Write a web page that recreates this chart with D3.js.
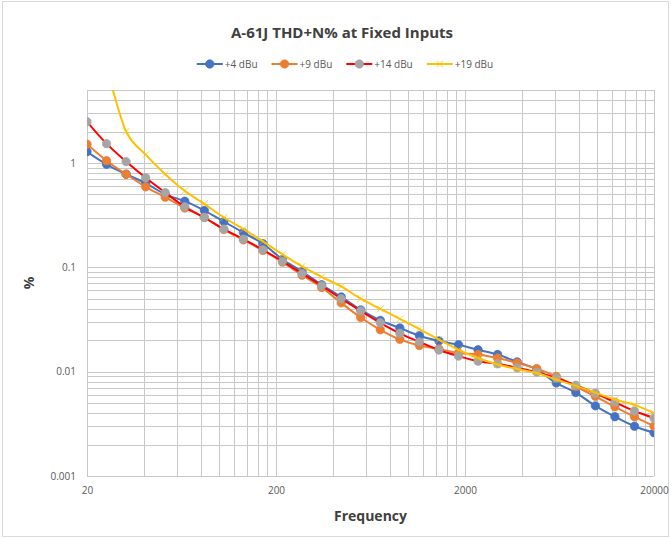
<!DOCTYPE html>
<html>
<head>
<meta charset="utf-8">
<script src="https://cdn.jsdelivr.net/npm/d3@7"></script>
<style>
  body { margin: 0; background: #fff; }
  svg { display: block; font-family: "Open Sans", "Liberation Sans", sans-serif; }
</style>
</head>
<body>
<div id="chart"></div>
<script>
// frequency points of the sweep (Hz), 30 points log spaced
var freqs = [20, 25.38, 32.21, 40.87, 51.86, 65.81, 83.51, 105.97, 134.47, 170.64,
  216.5, 274.8, 348.7, 442.5, 561.5, 712.5, 904.1, 1147.3, 1455.9, 1847.5,
  2344.5, 2975, 3775, 4790.6, 6079, 7714, 9789, 12422, 15764, 20000]

// THD+N % for each input level
var plus4 = [1.28, 0.97, 0.78, 0.64, 0.50, 0.43, 0.35, 0.274, 0.215, 0.168,
  0.119, 0.091, 0.068, 0.052, 0.039, 0.031, 0.0262, 0.0221, 0.0197, 0.0181,
  0.0162, 0.0146, 0.0124, 0.0105, 0.0078, 0.0063, 0.0047, 0.0037, 0.0030, 0.0026]
var plus9 = [1.51, 1.05, 0.78, 0.59, 0.47, 0.37, 0.30, 0.23, 0.183, 0.145,
  0.112, 0.084, 0.064, 0.0456, 0.033, 0.0252, 0.0204, 0.0178, 0.0165, 0.0151,
  0.0146, 0.0135, 0.0121, 0.0107, 0.0090, 0.0072, 0.0058, 0.0046, 0.0037, 0.0030]
var plus14 = [2.48, 1.53, 1.03, 0.72, 0.52, 0.38, 0.30, 0.232, 0.186, 0.147,
  0.114, 0.087, 0.0665, 0.050, 0.0382, 0.0294, 0.0233, 0.0193, 0.0161, 0.0141,
  0.0126, 0.0119, 0.0109, 0.0099, 0.0087, 0.0074, 0.0062, 0.0051, 0.0042, 0.0036]
var plus19 = [15, 7.5, 2.0, 1.2, 0.78, 0.54, 0.405, 0.30, 0.232, 0.177,
  0.133, 0.102, 0.081, 0.0655, 0.050, 0.040, 0.032, 0.0256, 0.0203, 0.0162,
  0.0135, 0.0117, 0.0106, 0.0097, 0.0084, 0.0073, 0.0063, 0.0054, 0.0048, 0.0040]

var seriesNames = ["+4 dBu", "+9 dBu", "+14 dBu", "+19 dBu"]
var xTicks = [20, 200, 2000, 20000]
var yTicks = [0.001, 0.01, 0.1, 1]

var W = 671, H = 538
var plot = { left: 87, right: 654, top: 90, bottom: 476 }

var series = [
  { name: seriesNames[0], values: plus4, line: "#4472C4", marker: "#4472C4", shape: "circle" },
  { name: seriesNames[1], values: plus9, line: "#ED7D31", marker: "#ED7D31", shape: "circle" },
  { name: seriesNames[2], values: plus14, line: "#FF0000", marker: "#A5A5A5", shape: "circle" },
  { name: seriesNames[3], values: plus19, line: "#FFC000", marker: "#FFC000", shape: "x" }
]

var svg = d3.select("#chart").append("svg")
  .attr("width", W)
  .attr("height", H)

svg.append("rect")
  .attr("x", 2.5).attr("y", 1.5)
  .attr("width", W - 5).attr("height", H - 3)
  .attr("fill", "#fff")
  .attr("stroke", "#d9d9d9")

var x = d3.scaleLog().domain([20, 20000]).range([plot.left, plot.right])
var y = d3.scaleLog().domain([0.001, 5]).range([plot.bottom, plot.top])

// gridlines: every multiple 1..9 of the decade start
var xGrid = []
xTicks.forEach(function (t, i) {
  if (i == xTicks.length - 1) { xGrid.push(t); return }
  for (var k = 1; k < 10; k++) xGrid.push(t * k)
})
var yGrid = []
yTicks.forEach(function (t) {
  for (var k = 1; k < 10; k++) {
    var v = +(t * k).toPrecision(3)
    if (v <= 5) yGrid.push(v)
  }
})

var grid = svg.append("g")
grid.selectAll(".gx").data(xGrid).enter().append("line")
  .attr("x1", function (d) { return Math.round(x(d)) + 0.5 })
  .attr("x2", function (d) { return Math.round(x(d)) + 0.5 })
  .attr("y1", plot.top).attr("y2", plot.bottom)
  .attr("stroke", "#c8c8c8").attr("stroke-width", 1)
grid.selectAll(".gy").data(yGrid).enter().append("line")
  .attr("y1", function (d) { return Math.round(y(d)) + 0.5 })
  .attr("y2", function (d) { return Math.round(y(d)) + 0.5 })
  .attr("x1", plot.left).attr("x2", plot.right)
  .attr("stroke", "#c8c8c8").attr("stroke-width", 1)

// axes (labels only)
var xAxis = svg.append("g")
  .attr("transform", "translate(0," + plot.bottom + ")")
  .call(d3.axisBottom(x).tickValues(xTicks).tickFormat(d3.format("d")).tickSize(0).tickPadding(11))
var yAxis = svg.append("g")
  .attr("transform", "translate(" + plot.left + ",0)")
  .call(d3.axisLeft(y).tickValues(yTicks).tickFormat(function (d) { return String(d) }).tickSize(0).tickPadding(11))
;[xAxis, yAxis].forEach(function (a) {
  a.select(".domain").remove()
  a.selectAll("text")
    .attr("fill", "#595959")
    .style("font-size", "10px")
    .style("font-family", "\"Open Sans\", sans-serif")
})

// clip to the plot area
svg.append("clipPath").attr("id", "clip")
  .append("rect")
  .attr("x", plot.left).attr("y", plot.top)
  .attr("width", plot.right - plot.left).attr("height", plot.bottom - plot.top)

var line = d3.line()
  .x(function (d) { return x(d[0]) })
  .y(function (d) { return y(d[1]) })
  .curve(d3.curveCardinal.tension(0))

function drawMarker(g, shape, color, cx, cy) {
  if (shape == "circle") {
    g.append("circle").attr("cx", cx).attr("cy", cy).attr("r", 4.2)
      .attr("fill", color).attr("stroke", color).attr("stroke-width", 0.75)
  } else {
    var s = 3.5
    g.append("path")
      .attr("d", "M" + (cx - s) + "," + (cy - s) + "L" + (cx + s) + "," + (cy + s) +
        "M" + (cx - s) + "," + (cy + s) + "L" + (cx + s) + "," + (cy - s))
      .attr("stroke", color).attr("stroke-width", 1).attr("opacity", 0.7)
  }
}

var plotG = svg.append("g").attr("clip-path", "url(#clip)")
series.forEach(function (s) {
  var pts = freqs.map(function (f, i) { return [f, s.values[i]] })
  var g = plotG.append("g")
  g.append("path")
    .attr("d", line(pts))
    .attr("fill", "none")
    .attr("stroke", s.line)
    .attr("stroke-width", 2)
  pts.forEach(function (p) {
    drawMarker(g, s.shape, s.marker, x(p[0]), y(p[1]))
  })
})

// title
svg.append("text")
  .attr("x", 342).attr("y", 38)
  .attr("text-anchor", "middle")
  .attr("fill", "#404040")
  .style("font-size", "15px")
  .style("font-weight", "bold")
  .text("A-61J THD+N% at Fixed Inputs")

// legend
var legend = svg.append("g")
var lx = 0
series.forEach(function (s) {
  var item = legend.append("g").attr("transform", "translate(" + lx + ",0)")
  item.append("line").attr("x1", 0).attr("x2", 26).attr("y1", 0).attr("y2", 0)
    .attr("stroke", s.line).attr("stroke-width", 2)
  drawMarker(item, s.shape, s.marker, 13, 0)
  var t = item.append("text").attr("x", 28).attr("y", 3.5)
    .attr("fill", "#595959").style("font-size", "10px")
    .text(s.name)
  lx += 28 + t.node().getComputedTextLength() + 14
})
var legW = lx - 14
legend.attr("transform", "translate(" + (345 - legW / 2) + ",64)")

// axis titles
svg.append("text")
  .attr("x", (plot.left + plot.right) / 2).attr("y", 521)
  .attr("text-anchor", "middle")
  .attr("fill", "#404040")
  .style("font-size", "14px")
  .style("font-weight", "bold")
  .text("Frequency")
svg.append("text")
  .attr("transform", "translate(34," + (plot.top + plot.bottom) / 2 + ") rotate(-90)")
  .attr("text-anchor", "middle")
  .attr("fill", "#404040")
  .style("font-size", "14px")
  .style("font-weight", "bold")
  .text("%")
</script>
</body>
</html>
